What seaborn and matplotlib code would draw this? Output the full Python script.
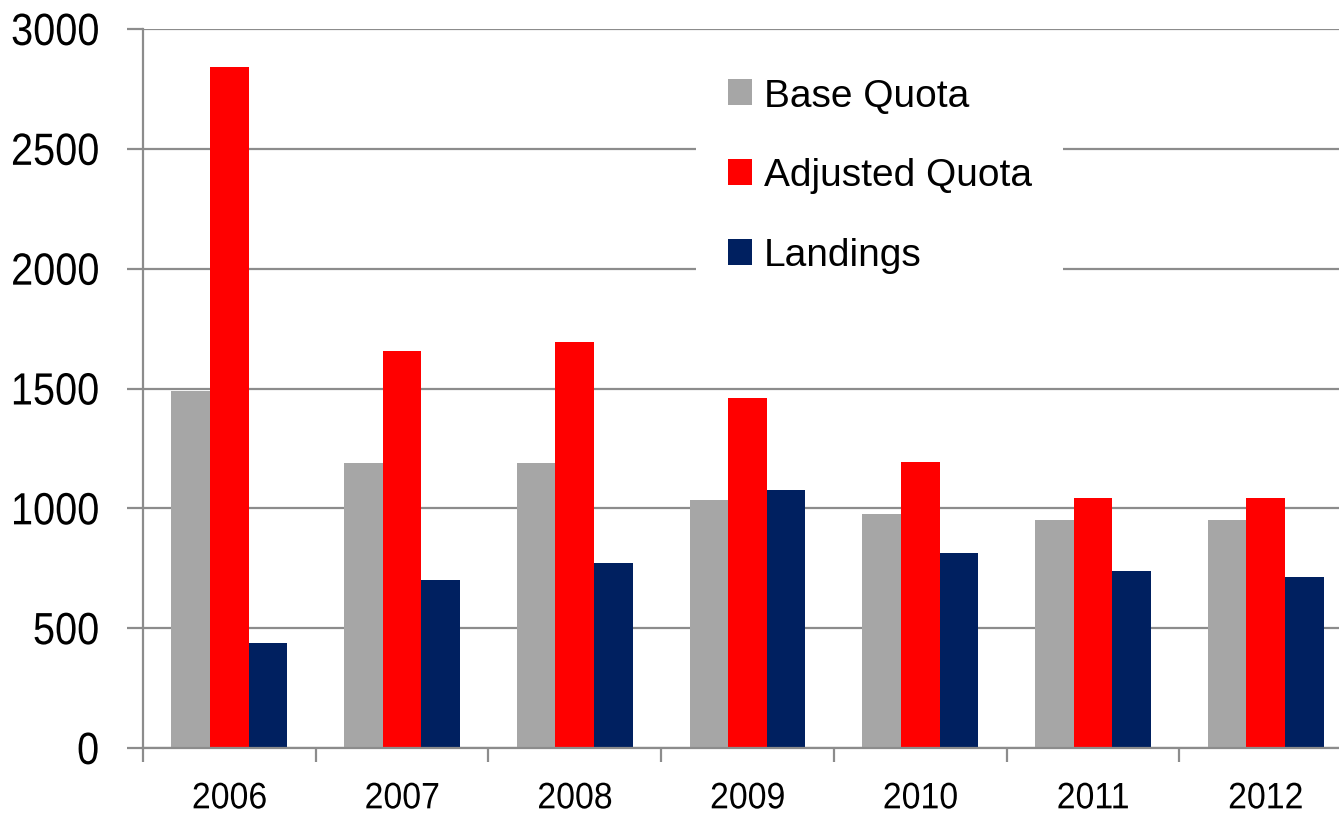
import matplotlib
matplotlib.use('Agg')
import matplotlib.pyplot as plt
import pandas as pd
import seaborn as sns
from matplotlib.patheffects import AbstractPathEffect
from matplotlib.transforms import Affine2D

# values
years = ['2006', '2007', '2008', '2009', '2010', '2011', '2012']
base_quota = [1490, 1190, 1190, 1035, 977, 950, 950]
adjusted_quota = [2840, 1655, 1695, 1462, 1193, 1045, 1045]
landings = [440, 703, 770, 1075, 815, 737, 714]
series = ['Base Quota', 'Adjusted Quota', 'Landings']
colors = ['#a6a6a6', '#ff0000', '#002060']
y_ticks = [0, 500, 1000, 1500, 2000, 2500, 3000]


# the original uses a narrow font: squeeze text horizontally
class Squeeze(AbstractPathEffect):
    def __init__(self, sx, anchor='center'):
        super().__init__()
        self.sx = sx
        self.anchor = anchor

    def draw_path(self, renderer, gc, tpath, affine, rgbFace=None):
        ext = tpath.get_extents(affine)
        if self.anchor == 'right':
            x0 = ext.x1
        elif self.anchor == 'left':
            x0 = ext.x0
        else:
            x0 = (ext.x0 + ext.x1) / 2
        affine = affine + Affine2D().translate(-x0, 0).scale(self.sx, 1).translate(x0, 0)
        renderer.draw_path(gc, tpath, affine, rgbFace)


df = pd.DataFrame({'year': years,
                   'Base Quota': base_quota,
                   'Adjusted Quota': adjusted_quota,
                   'Landings': landings})
df = df.melt(id_vars='year', var_name='series', value_name='value')

sns.set_style('white')
plt.rcParams['font.family'] = ['Liberation Sans', 'DejaVu Sans']
plt.rcParams['text.color'] = 'black'
plt.rcParams['xtick.color'] = 'black'
plt.rcParams['ytick.color'] = 'black'

fig = plt.figure(figsize=(13.39, 8.2), dpi=100)
ax = fig.add_axes([143 / 1339, 71 / 820, 1209 / 1339, 719 / 820])

sns.barplot(data=df, x='year', y='value', hue='series', hue_order=series,
            palette=colors, width=0.67, gap=0, saturation=1,
            linewidth=0, ax=ax)

grey = '#8c8c8c'
ax.set_xlim(-0.5, len(years) - 0.5)
ax.set_ylim(0, 3000)
ax.set_yticks(y_ticks)
ax.set_xlabel('')
ax.set_ylabel('')

# gridlines behind bars
ax.set_axisbelow(True)
ax.yaxis.grid(True, color=grey, linewidth=1.6)
ax.xaxis.grid(False)

for side in ['top', 'right']:
    ax.spines[side].set_visible(False)
for side in ['left', 'bottom']:
    ax.spines[side].set_color(grey)
    ax.spines[side].set_linewidth(1.6)

# y ticks
ax.tick_params(axis='y', which='major', length=11.5, width=1.6, color=grey,
               labelcolor='black', labelsize=32.5, pad=20, left=True)
# x labels centred, tick marks at group boundaries
ax.set_xticks(range(len(years)))
ax.set_xticklabels(years)
ax.set_xticks([i - 0.5 for i in range(len(years) + 1)], minor=True)
ax.tick_params(axis='x', which='major', length=0, labelsize=26.5, pad=24,
               labelcolor='black')
ax.tick_params(axis='x', which='minor', length=10, width=1.6, color=grey,
               bottom=True)

for t in ax.yaxis.get_major_ticks():
    t.label1.set_path_effects([Squeeze(0.88, 'right')])
for t in ax.xaxis.get_major_ticks():
    t.label1.set_path_effects([Squeeze(0.92, 'center')])

leg = ax.legend(loc='upper left', bbox_to_anchor=(677 / 1339, 1 - 28 / 820),
                bbox_transform=fig.transFigure, fontsize=28, frameon=True,
                facecolor='white', edgecolor='none', framealpha=1,
                borderpad=0.8, labelspacing=1.13, handlelength=0.64,
                handleheight=0.64, handletextpad=0.3, fancybox=False)
for txt in leg.get_texts():
    txt.set_color('black')

plt.savefig('out.png', dpi=100)
